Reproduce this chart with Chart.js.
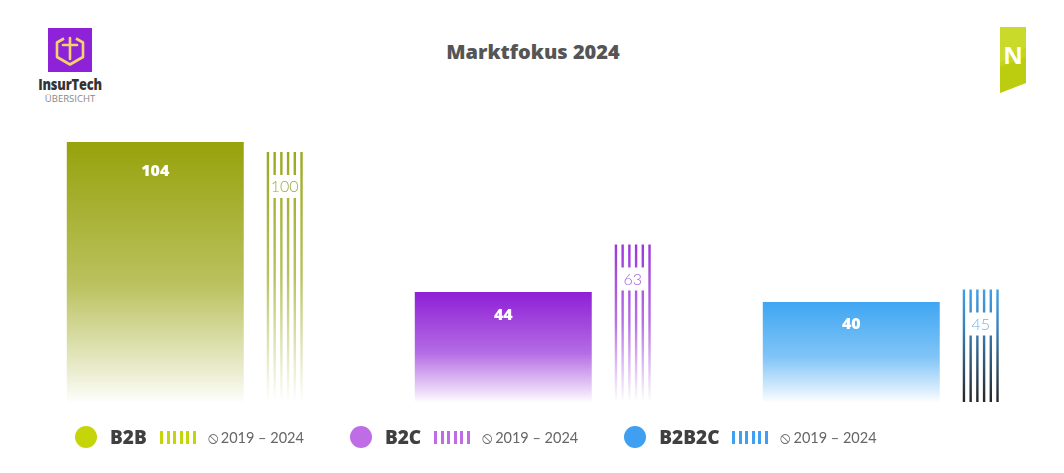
<!DOCTYPE html>
<html lang="de">
<head>
<meta charset="utf-8">
<title>Marktfokus 2024</title>
<script src="https://cdn.jsdelivr.net/npm/chart.js@4.4.1/dist/chart.umd.min.js"></script>
<style>
    html, body {
        margin: 0;
        padding: 0;
        width: 1064px;
        height: 473px;
        overflow: hidden;
        background: #fff;
        font-family: 'Open Sans', 'Noto Sans', sans-serif;
    }
    #chartWrap {
        position: absolute;
        left: 0;
        top: 0;
        width: 1090px;
        height: 473px;
    }
    .title {
        position: absolute;
        left: 0;
        width: 1066px;
        top: 38px;
        text-align: center;
        font-size: 20px;
        font-weight: 800;
        color: #555;
    }
    .logo-left {
        position: absolute;
        left: 30px;
        top: 28px;
        width: 80px;
        text-align: center;
    }
    .logo-left .name {
        font-weight: 800;
        font-size: 16px;
        color: #333;
        margin-top: 4px;
        line-height: 16px;
        transform: scaleX(0.8);
        letter-spacing: -0.2px;
    }
    .logo-left .sub {
        font-size: 9.5px;
        color: #888;
        line-height: 13px;
    }
    .logo-right {
        position: absolute;
        left: 1000px;
        top: 27px;
    }
    .legend {
        position: absolute;
        left: 75px;
        top: 426px;
        display: flex;
        align-items: center;
        gap: 46px;
    }
    .leg-item {
        display: flex;
        align-items: center;
        height: 22px;
    }
    .leg-dot {
        width: 22px;
        height: 22px;
        border-radius: 50%;
        margin-right: 13px;
    }
    .leg-name {
        font-weight: 800;
        font-size: 19px;
        color: #404040;
        margin-right: 13px;
    }
    .leg-stripes {
        width: 36px;
        height: 13px;
        margin-right: 12px;
    }
    .leg-range {
        font-family: 'Lato', 'Open Sans', sans-serif;
        font-weight: 400;
        font-size: 14.5px;
        color: #666;
    }
    .leg-range .avg {
        font-family: 'DejaVu Sans', sans-serif;
        font-size: 16px;
        margin-right: 3px;
    }
</style>
</head>
<body>

<div class="logo-left">
    <svg width="44" height="44" viewBox="0 0 44 44" style="display:block;margin:0 auto 0 18px;">
        <rect x="0" y="0" width="44" height="44" fill="#8d22d8"/>
        <path d="M16 10.5 L9 14.5 L9 29 L22 36.5 L35 29 L35 14.5 L28 10.5" fill="none" stroke="#f3d36b" stroke-width="2.6" stroke-linejoin="round"/>
        <path d="M15 17 L29 17 M22 10 L22 31" fill="none" stroke="#f3d36b" stroke-width="2.6" stroke-linecap="round"/>
    </svg>
    <div class="name">InsurTech</div>
    <div class="sub">ÜBERSICHT</div>
</div>

<div class="title">Marktfokus 2024</div>

<div class="logo-right">
    <svg width="26" height="66" viewBox="0 0 26 66">
        <polygon points="0,0 26,0 26,56 0,66" fill="#c4d416"/>
        <polygon points="0,0 26,0 26,20 0,36" fill="#cfdd3a" opacity="0.6"/>
        <polygon points="0,40 26,30 26,56 0,66" fill="#b8c80e" opacity="0.6"/>
        <text x="13" y="37" text-anchor="middle" font-family="Open Sans, sans-serif" font-weight="700" font-size="24" fill="#fff">N</text>
    </svg>
</div>

<div id="chartWrap"><canvas id="marketChart" width="1090" height="473"></canvas></div>

<div class="legend" id="legend"></div>

<script>
// Data
const categories = ['B2B', 'B2C', 'B2B2C'];
const values2024 = [104, 44, 40];
const avg2019to2024 = [100, 63, 45];
const rangeLabel = '2019 – 2024';

// Colours per category
const barColors = ['#97a20c', '#8e1fd6', '#3fa6f2'];
const stripeTopColors = ['#9aa91c', '#9a38da', '#3f9fe8'];
const stripeBottomColors = ['rgba(154,169,28,0)', 'rgba(154,56,218,0)', '#262626'];
const avgLabelColors = ['#a0aa42', '#a460dc', '#72b2ea'];
const legendColors = ['#c6d40a', '#bf6de6', '#3f9ff0'];

function rgba(hex, a) {
    const n = parseInt(hex.slice(1), 16);
    return `rgba(${(n >> 16) & 255}, ${(n >> 8) & 255}, ${n & 255}, ${a})`;
}

// Fading fill for the 2024 bars
function mainGradient(context) {
    const chart = context.chart;
    const i = context.dataIndex;
    if (context.type !== 'data' || !chart.chartArea) {
        return barColors[0];
    }
    const yScale = chart.scales.y;
    const top = yScale.getPixelForValue(values2024[i]);
    const bottom = yScale.getPixelForValue(0);
    const g = chart.ctx.createLinearGradient(0, top, 0, bottom);
    g.addColorStop(0, rgba(barColors[i], 1));
    g.addColorStop(0.55, rgba(barColors[i], 0.66));
    g.addColorStop(0.88, rgba(barColors[i], 0.2));
    g.addColorStop(1, rgba(barColors[i], 0.01));
    return g;
}

// Draw value labels + the striped average bars
const barDecorPlugin = {
    id: 'barDecor',
    afterDatasetsDraw(chart) {
        const ctx = chart.ctx;
        const mainMeta = chart.getDatasetMeta(0);
        const avgMeta = chart.getDatasetMeta(1);
        ctx.save();

        ctx.textAlign = 'center';
        ctx.textBaseline = 'middle';
        mainMeta.data.forEach((bar, i) => {
            const h = bar.base - bar.y;
            ctx.fillStyle = '#fff';
            ctx.font = "800 16px 'Open Sans', sans-serif";
            ctx.fillText(values2024[i], bar.x, bar.y + 18 + h * 0.045);
        });

        avgMeta.data.forEach((bar, i) => {
            const lw = 2.4;
            const left = bar.x - bar.width / 2;
            const step = (bar.width - lw) / 5;
            const grad = ctx.createLinearGradient(0, bar.y, 0, bar.base);
            grad.addColorStop(0, stripeTopColors[i]);
            if (i === 2) {
                grad.addColorStop(0.35, '#3a7fb8');
            } else {
                grad.addColorStop(0.5, rgba(stripeTopColors[i], 0.7));
            }
            grad.addColorStop(1, stripeBottomColors[i]);
            ctx.strokeStyle = grad;
            ctx.lineWidth = lw;
            for (let k = 0; k < 6; k++) {
                const x = left + lw / 2 + k * step;
                ctx.beginPath();
                if (k === 0 || k === 5) {
                    ctx.moveTo(x, bar.y);
                    ctx.lineTo(x, bar.base);
                } else {
                    ctx.moveTo(x, bar.y);
                    ctx.lineTo(x, bar.y + 23);
                    ctx.moveTo(x, bar.y + 46);
                    ctx.lineTo(x, bar.base);
                }
                ctx.stroke();
            }
            ctx.fillStyle = avgLabelColors[i];
            ctx.font = "300 16px 'Lato', 'Open Sans', sans-serif";
            ctx.fillText(avg2019to2024[i], bar.x, bar.y + 35);
        });
        ctx.restore();
    }
};

function initChart() {
    const ctx = document.getElementById('marketChart').getContext('2d');
    new Chart(ctx, {
        type: 'bar',
        data: {
            labels: categories,
            datasets: [
                {
                    label: '2024',
                    data: values2024,
                    backgroundColor: mainGradient,
                    borderWidth: 0,
                    categoryPercentage: 0.744,
                    barPercentage: 1.367
                },
                {
                    label: 'Ø ' + rangeLabel,
                    data: avg2019to2024,
                    backgroundColor: 'rgba(0,0,0,0)',
                    borderWidth: 0,
                    categoryPercentage: 0.744,
                    barPercentage: 0.278
                }
            ]
        },
        options: {
            responsive: false,
            animation: false,
            layout: {
                padding: { left: 46, right: 0, top: 142, bottom: 71 }
            },
            scales: {
                x: { display: false },
                y: { display: false, min: 0, max: 104 }
            },
            plugins: {
                legend: { display: false }, // custom HTML legend below
                tooltip: { enabled: false }
            }
        },
        plugins: [barDecorPlugin]
    });
}

function buildLegend() {
    const legend = document.getElementById('legend');
    categories.forEach((name, i) => {
        const item = document.createElement('div');
        item.className = 'leg-item';
        const c = legendColors[i];
        item.innerHTML =
            `<span class="leg-dot" style="background:${c}"></span>` +
            `<span class="leg-name">${name}</span>` +
            `<span class="leg-stripes" style="background:repeating-linear-gradient(90deg, ${c} 0 3px, transparent 3px 6.6px)"></span>` +
            `<span class="leg-range"><span class="avg">⦸</span>${rangeLabel}</span>`;
        legend.appendChild(item);
    });
}

buildLegend();
initChart();
</script>
</body>
</html>
